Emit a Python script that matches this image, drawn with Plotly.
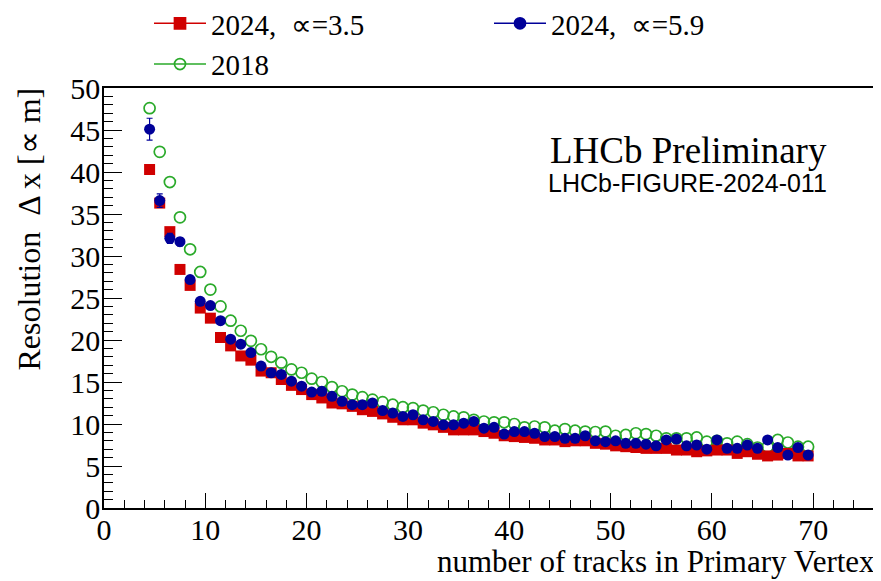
import plotly.graph_objects as go

# ---------------- data ----------------
ntracks = [4.5, 5.5, 6.5, 7.5, 8.5, 9.5, 10.5, 11.5, 12.5, 13.5, 14.5, 15.5, 16.5, 17.5,
           18.5, 19.5, 20.5, 21.5, 22.5, 23.5, 24.5, 25.5, 26.5, 27.5, 28.5, 29.5, 30.5,
           31.5, 32.5, 33.5, 34.5, 35.5, 36.5, 37.5, 38.5, 39.5, 40.5, 41.5, 42.5, 43.5,
           44.5, 45.5, 46.5, 47.5, 48.5, 49.5, 50.5, 51.5, 52.5, 53.5, 54.5, 55.5, 56.5,
           57.5, 58.5, 59.5, 60.5, 61.5, 62.5, 63.5, 64.5, 65.5, 66.5, 67.5, 68.5, 69.5]

res_2024_a35 = [40.3, 36.3, 32.9, 28.4, 26.5, 23.8, 22.6, 20.3, 19.3, 18.1, 17.6, 16.3, 16.1, 15.3,
                14.6, 14.1, 13.5, 13.1, 12.5, 12.4, 12.1, 11.7, 11.5, 11.2, 10.8, 10.5, 10.5,
                10.1, 9.9, 9.6, 9.3, 9.3, 9.3, 9.1, 8.9, 8.6, 8.5, 8.4, 8.3, 8.1,
                8.1, 7.9, 8.0, 8.0, 7.7, 7.6, 7.4, 7.3, 7.2, 7.1, 7.1, 7.1, 6.9,
                6.9, 6.7, 6.8, 6.9, 6.9, 6.5, 6.7, 6.4, 6.2, 6.3, 6.5, 6.2, 6.2]
err_2024_a35 = [0.5, 0.5, 0.4, 0.4, 0.3, 0.3, 0.3, 0.3, 0.3, 0.2, 0.2, 0.2, 0.2, 0.2,
                0.2, 0.2, 0.2, 0.2, 0.2, 0.2, 0.2, 0.2, 0.2, 0.2, 0.2, 0.2, 0.2,
                0.2, 0.2, 0.2, 0.2, 0.2, 0.2, 0.2, 0.2, 0.2, 0.2, 0.2, 0.2, 0.2,
                0.2, 0.2, 0.2, 0.2, 0.2, 0.2, 0.2, 0.2, 0.2, 0.2, 0.2, 0.2, 0.2,
                0.2, 0.2, 0.2, 0.2, 0.2, 0.2, 0.2, 0.2, 0.2, 0.2, 0.2, 0.2, 0.2]

res_2024_a59 = [45.1, 36.6, 32.1, 31.7, 27.2, 24.6, 24.1, 22.3, 20.1, 19.5, 18.5, 16.9, 16.1, 15.9,
                15.1, 14.5, 13.8, 13.9, 13.3, 12.7, 12.3, 12.3, 12.5, 11.6, 11.3, 10.9, 11.1,
                10.5, 10.3, 9.9, 9.9, 10.1, 10.3, 9.5, 9.6, 8.8, 9.1, 9.1, 8.9, 8.5,
                8.5, 8.3, 8.3, 8.6, 8.0, 7.9, 8.0, 7.7, 7.7, 7.6, 7.4, 8.1, 8.2,
                7.4, 7.5, 7.0, 8.1, 7.1, 7.1, 7.5, 7.1, 8.1, 7.2, 6.3, 7.2, 6.3]
err_2024_a59 = [1.3, 0.8, 0.6, 0.5, 0.4, 0.4, 0.3, 0.3, 0.3, 0.3, 0.3, 0.3, 0.3, 0.3,
                0.3, 0.3, 0.3, 0.3, 0.3, 0.3, 0.3, 0.3, 0.3, 0.3, 0.3, 0.3, 0.3,
                0.3, 0.3, 0.3, 0.3, 0.3, 0.3, 0.3, 0.3, 0.3, 0.3, 0.3, 0.3, 0.3,
                0.3, 0.3, 0.3, 0.3, 0.3, 0.3, 0.3, 0.3, 0.3, 0.3, 0.3, 0.3, 0.3,
                0.3, 0.3, 0.3, 0.3, 0.3, 0.3, 0.3, 0.3, 0.4, 0.3, 0.3, 0.4, 0.3]

res_2018 = [47.6, 42.4, 38.8, 34.6, 30.8, 28.1, 26.0, 24.0, 22.3, 21.1, 19.9, 18.9, 18.0, 17.3,
            16.5, 16.1, 15.4, 15.0, 14.4, 13.9, 13.5, 13.2, 12.9, 12.6, 12.3, 12.0, 11.9,
            11.6, 11.4, 11.1, 10.9, 10.8, 10.5, 10.3, 10.2, 10.2, 10.0, 9.6, 9.7, 9.6,
            9.2, 9.4, 9.2, 9.1, 9.05, 9.1, 8.6, 8.7, 8.9, 8.8, 8.6, 8.3, 8.3,
            8.3, 8.4, 7.9, 8.0, 7.7, 7.9, 7.6, 7.2, 7.3, 8.1, 7.8, 7.3, 7.3]

series_names = ["2024,\u00a0\u00a0\u221d=3.5", "2024,\u00a0\u00a0\u221d=5.9", "2018"]
x_ticks = [0, 10, 20, 30, 40, 50, 60, 70]
y_ticks = [0, 5, 10, 15, 20, 25, 30, 35, 40, 45, 50]

RED = "#d00000"
BLUE = "#000099"
GREEN = "#2aaa2a"
SERIF = "Liberation Serif, Times New Roman, serif"

# The page body has an 8px margin, so the figure is drawn 8px right/down.
OFF = 8
W, H = 881 - OFF, 581 - OFF
L, T = 104 - OFF, 88 - OFF
R = W - (876 - OFF)
B = H - (508 - OFF)
PW, PH = W - L - R, H - T - B


def px_x(p):
    """screen pixel x -> paper x"""
    return (p - OFF - L) / PW


def px_y(p):
    """screen pixel y -> paper y"""
    return (H - B - (p - OFF)) / PH


fig = go.Figure()

# data traces (drawn: green, red, blue)
fig.add_trace(go.Scatter(
    x=ntracks, y=res_2018, mode="markers", showlegend=False,
    marker=dict(symbol="circle-open", size=11, color=GREEN, line=dict(width=1.7, color=GREEN))))
fig.add_trace(go.Scatter(
    x=ntracks, y=res_2024_a35, mode="markers", showlegend=False,
    marker=dict(symbol="square", size=11, color=RED),
    error_y=dict(type="data", array=err_2024_a35, color=RED, thickness=1.2, width=3)))
fig.add_trace(go.Scatter(
    x=ntracks, y=res_2024_a59, mode="markers", showlegend=False,
    marker=dict(symbol="circle", size=11, color=BLUE),
    error_y=dict(type="data", array=err_2024_a59, color=BLUE, thickness=1.2, width=3)))

# legend entries
for name, col, sym, lg in [(series_names[0], RED, "square", "legend"),
                           (series_names[2], GREEN, "circle-open", "legend"),
                           (series_names[1], BLUE, "circle", "legend2")]:
    fig.add_trace(go.Scatter(
        x=[None], y=[None], mode="lines+markers", name=name, legend=lg,
        line=dict(color=col, width=1.5),
        marker=dict(symbol=sym, size=11, color=col, line=dict(width=1.7, color=col))))

legend_style = dict(orientation="v", yanchor="top", xanchor="left",
                    font=dict(family=SERIF, size=29, color="black"),
                    bgcolor="rgba(0,0,0,0)", tracegroupgap=0, itemwidth=52)

fig.update_layout(
    width=W, height=H,
    margin=dict(l=L, r=R, t=T, b=B, autoexpand=False),
    paper_bgcolor="white", plot_bgcolor="white",
    font=dict(family=SERIF, color="black", size=28),
    showlegend=True,
    legend=dict(x=px_x(149), y=px_y(-2), **legend_style),
    legend2=dict(x=px_x(489), y=px_y(-2), **legend_style),
    xaxis=dict(range=[0, 76.2], tickvals=x_ticks, ticks="inside", ticklen=15, tickwidth=1.2,
               tickcolor="black", showline=True, linecolor="black", linewidth=1.5, mirror=True,
               showgrid=False, zeroline=False, tickfont=dict(family=SERIF, size=30),
               ticklabelstandoff=-6,
               minor=dict(dtick=2, ticks="inside", ticklen=8, tickwidth=1.2, tickcolor="black",
                          showgrid=False)),
    yaxis=dict(range=[0, 50], tickvals=y_ticks, ticks="inside", ticklen=18, tickwidth=1.2,
               tickcolor="black", showline=True, linecolor="black", linewidth=1.5, mirror=True,
               showgrid=False, zeroline=False, tickfont=dict(family=SERIF, size=30),
               ticklabelstandoff=-4,
               minor=dict(dtick=1, ticks="inside", ticklen=9, tickwidth=1.2, tickcolor="black",
                          showgrid=False)),
)

fig.add_annotation(text="number of tracks in Primary Vertex", xref="paper", yref="paper",
                   x=px_x(877), y=px_y(561), xanchor="right", yanchor="middle", showarrow=False,
                   font=dict(family=SERIF, size=31, color="black"))
fig.add_annotation(text="Resolution\u00a0\u00a0\u0394 x [\u221d m]", xref="paper", yref="paper",
                   x=px_x(28), y=px_y(86), xanchor="center", yanchor="top", textangle=-90,
                   showarrow=False, font=dict(family=SERIF, size=32, color="black"))
fig.add_annotation(text="LHCb Preliminary", xref="paper", yref="paper",
                   x=px_x(688), y=px_y(150), xanchor="center", yanchor="middle",
                   showarrow=False, font=dict(family=SERIF, size=37, color="black"))
fig.add_annotation(text="LHCb-FIGURE-2024-011", xref="paper", yref="paper",
                   x=px_x(687), y=px_y(183), xanchor="center", yanchor="middle",
                   showarrow=False, font=dict(family="Liberation Sans, Arial, sans-serif", size=25,
                                              color="black"))

fig.write_html("out.html")
